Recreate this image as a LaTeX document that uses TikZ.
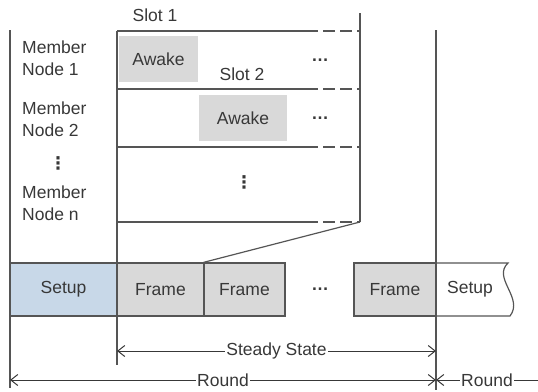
\documentclass[tikz,border=0pt]{standalone}
\usepackage{fontspec}
\setmainfont{Liberation Sans}
\newfontfamily\dejavu{DejaVu Sans}
\usetikzlibrary{arrows.meta}
\definecolor{linec}{HTML}{555555}
\definecolor{textc}{HTML}{383838}
\definecolor{grayfill}{HTML}{D9D9D9}
\definecolor{bluefill}{HTML}{C8D8E8}
\begin{document}
\begin{tikzpicture}[x=1pt,y=-1pt,
  every node/.style={font=\fontsize{17.5}{22}\selectfont, text=textc},
  ln/.style={draw=linec, line width=1.2pt},
  dsh/.style={draw=linec, line width=1.2pt, dash pattern=on 12pt off 5pt},
  awakebox/.style={fill=grayfill, minimum height=46pt, inner sep=0pt},
  framebox/.style={draw=linec, line width=1.2pt, fill=grayfill, minimum height=53pt, inner sep=0pt},
  setupbox/.style={draw=linec, line width=1.2pt, fill=bluefill, minimum height=53pt, inner sep=0pt},
  memlabel/.style={align=left, anchor=west, inner sep=0pt},
  dimarrow/.style={draw=textc, line width=1pt, {Straight Barb[length=7pt,width=11pt]}-{Straight Barb[length=7pt,width=11pt]}},
  larrow/.style={draw=textc, line width=1pt, {Straight Barb[length=7pt,width=11pt]}-},
  lbl/.style={fill=white, inner sep=1pt}
]
\useasboundingbox (0,0) rectangle (538,391);

% awake boxes
\node[awakebox, minimum width=79pt] (aw1) at (158.5,59) {Awake};
\node[awakebox, minimum width=88pt] (aw2) at (243,118) {Awake};

% vertical lines
\coordinate (lt) at (10,30); \coordinate (lb) at (10,388);
\coordinate (mt) at (117,31); \coordinate (mb) at (117,365);
\coordinate (st) at (360,13); \coordinate (sb) at (360,222);
\coordinate (rt) at (436,30); \coordinate (rb) at (436,390);
\draw[ln] (lt) -- (lb);
\draw[ln] (mt) -- (mb);
\draw[ln] (st) -- (sb);
\draw[ln] (rt) -- (rb);

% table rows
\foreach \yy/\nm in {31/ra,89/rb,147/rc,222/rd}{
  \coordinate (\nm1) at (117,\yy);
  \coordinate (\nm2) at (318,\yy);
  \coordinate (\nm3) at (323,\yy);
  \coordinate (\nm4) at (360,\yy);
  \draw[ln] (\nm1) -- (\nm2);
  \draw[dsh] (\nm3) -- (\nm4);
}

% labels
\node (slot1) at (155,15) {Slot 1};
\node (slot2) at (242,74) {Slot 2};
\node[memlabel] (m1) at (22,58) {Member\\Node 1};
\node[memlabel] (m2) at (22,119) {Member\\Node 2};
\node[memlabel] (mn) at (22,203) {Member\\Node n};
\node (vd1) at (58,163) {\dejavu\bfseries ⋮};
\node (vd2) at (244,182) {\dejavu\bfseries ⋮};
\node (hd1) at (320,60) {\textbf{…}};
\node (hd2) at (320,118) {\textbf{…}};
\node (hd3) at (320,289) {\textbf{…}};

% bottom row
\node[setupbox, minimum width=107pt] (setup1) at (63.5,289.5) {Setup};
\node[framebox, minimum width=87pt] (fr1) at (160.5,289.5) {Frame};
\node[framebox, minimum width=81pt] (fr2) at (244.5,289.5) {Frame};
\node[framebox, minimum width=82pt] (fr3) at (395,289.5) {Frame};
\draw[ln] (436,263) -- (508,263) .. controls (492,278) and (524,298) .. (510,316) -- (436,316);
\node (setup2) at (470,289.5) {Setup};

% zoom connector
\draw[ln] (sb) -- (fr2.north west);

% dimension arrows
\coordinate (ssl) at (117,351); \coordinate (ssr) at (436,351);
\draw[dimarrow] (ssl) -- (ssr) node[lbl, midway] (ss) {Steady State};
\coordinate (rl) at (10,380); \coordinate (rr) at (436,380);
\draw[dimarrow] (rl) -- (rr) node[lbl, midway] (rd1) {Round};
\coordinate (r2r) at (538,380);
\draw[larrow] (rr) -- (r2r) node[lbl, midway] (rd2) {Round};
\end{tikzpicture}
\end{document}
